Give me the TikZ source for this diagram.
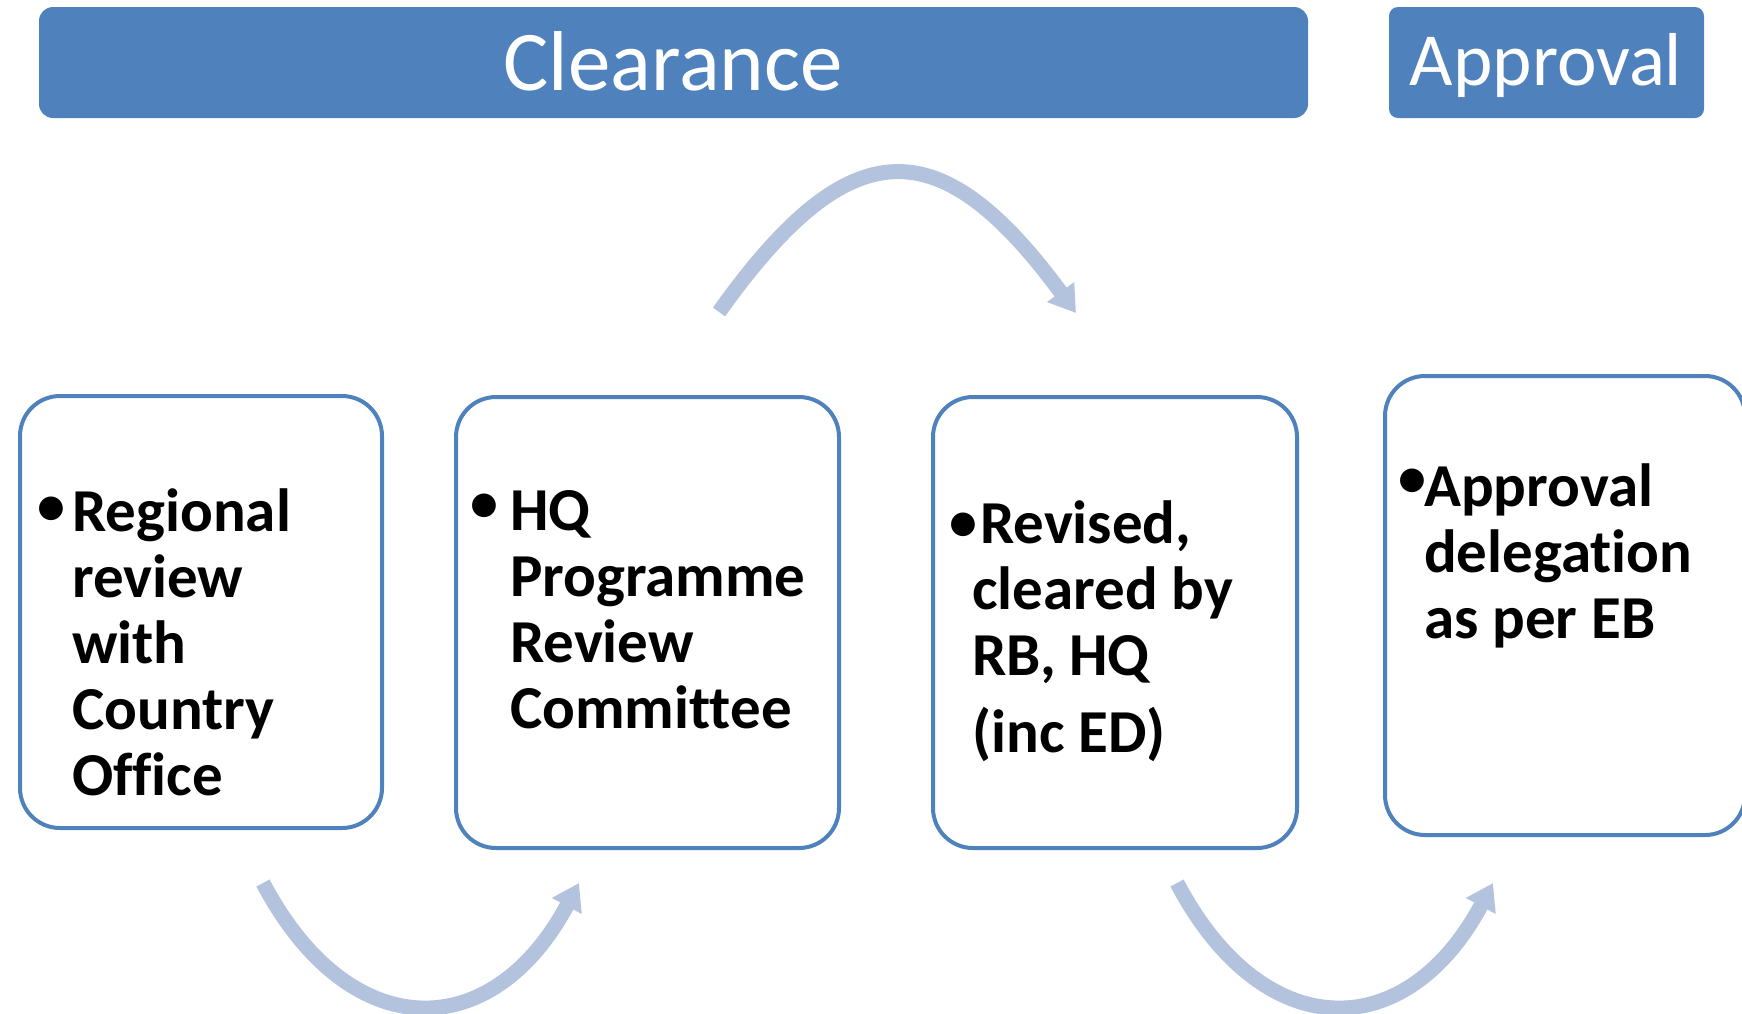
\documentclass[tikz,border=0pt]{standalone}
\usepackage{fontspec}
\setmainfont{Carlito}[Ligatures=NoCommon]
\usetikzlibrary{arrows.meta}
\definecolor{hdr}{RGB}{79,129,189}
\definecolor{arw}{RGB}{179,195,221}
\begin{document}
\begin{tikzpicture}[x=1pt,y=-1pt,
  hbar/.style={fill=hdr, rounded corners=14pt},
  htext/.style={text=white, inner sep=0pt, anchor=base},
  stage/.style={draw=hdr, line width=4pt, rounded corners=40pt, fill=white, inner sep=0pt},
  body/.style={font=\fontsize{61}{66}\selectfont\bfseries, align=left, inner sep=0pt, anchor=base west},
  bul/.style={font=\fontsize{56}{66}\selectfont\bfseries, inner sep=0pt, anchor=center},
  flow/.style={draw=arw, line width=15pt, -{Triangle[length=26pt,width=32pt]}},
]
\useasboundingbox (0,0) rectangle (1742,1013);
\clip (0,0) rectangle (1742,1013);
% headers
\fill[hbar] (39,7) rectangle (1308,118);
\node[htext, font=\fontsize{85}{90}\selectfont] (clr) at (673,90) {Clearance};
\fill[hbar, rounded corners=9pt] (1389,7) rectangle (1704,118);
\node[htext, font=\fontsize{75}{80}\selectfont] (apr) at (1546,85) {Approval};
% stage boxes
\node[stage, minimum width=362pt, minimum height=432pt] (s1) at (201,612) {};
\node[stage, minimum width=383pt, minimum height=451pt] (s2) at (647.5,622.5) {};
\node[stage, minimum width=364pt, minimum height=451pt] (s3) at (1115,622.5) {};
\node[stage, minimum width=360pt, minimum height=459pt] (s4) at (1565,605.5) {};
% texts (anchored at the baseline of the last line)
\node[bul] (b1) at (51,511) {•};
\node[body] (t1) at (72,795) {Regional\\review\\with\\Country\\Office};
\node[bul] (b2) at (484,508) {•};
\node[body] (t2) at (510,728) {HQ\\Programme\\Review\\Committee};
\node[bul] (b3) at (963,527) {•};
\node[body] (t3) at (972,752) {\hspace*{8pt}Revised,\\cleared by\\RB, HQ\\[11pt](inc ED)};
\node[bul] (b4) at (1412,483) {•};
\node[body] (t4) at (1424,638) {Approval\\delegation\\as per EB};
% flow arrows
\coordinate (a1s) at (263,883);
\coordinate (a1e) at (579,883);
\draw[flow] (a1s) .. controls (349,1046) and (492,1046) .. (a1e);
\coordinate (a2s) at (719,312);
\coordinate (a2e) at (1076,313);
\draw[flow] (a2s) .. controls (850,128) and (940,128) .. (a2e);
\coordinate (a3s) at (1177,883);
\coordinate (a3e) at (1493,883);
\draw[flow] (a3s) .. controls (1263,1046) and (1406,1046) .. (a3e);
\end{tikzpicture}
\end{document}
